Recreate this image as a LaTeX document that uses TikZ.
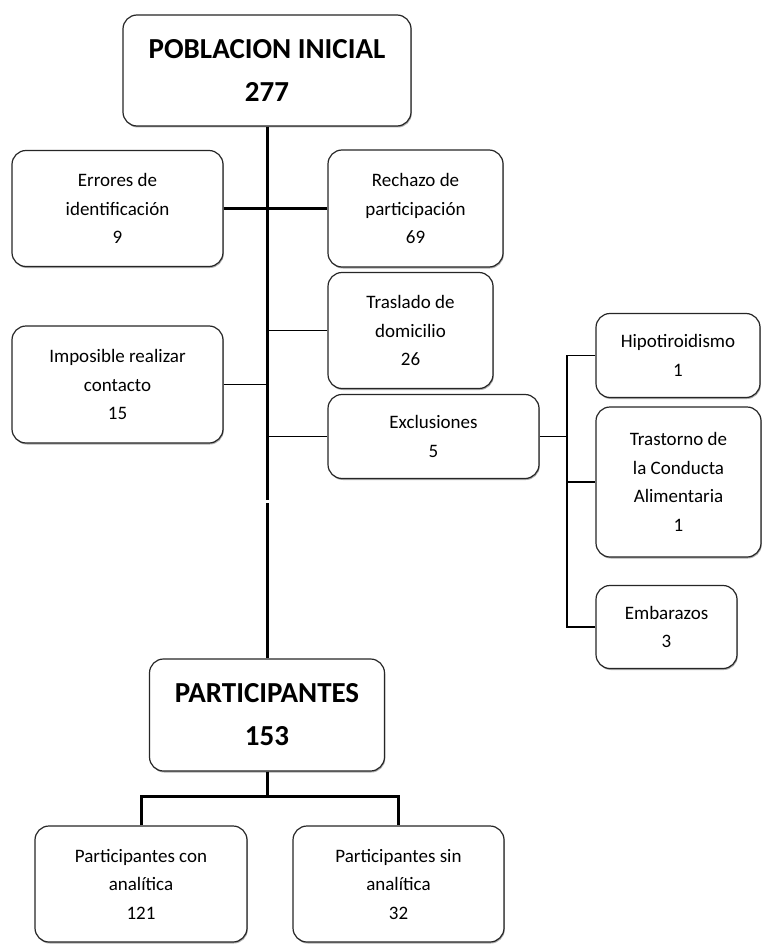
\documentclass[tikz,border=0pt]{standalone}
\usepackage{fontspec}
\setmainfont{Carlito}
\usetikzlibrary{shadows}
\begin{document}
\begin{tikzpicture}[x=1pt,y=-1pt,
  box/.style={draw=black!85, line width=1.2pt, rounded corners=14pt, fill=white,
    align=center, inner sep=0pt,
    drop shadow={shadow xshift=0.8pt, shadow yshift=-1.5pt, opacity=0.45, fill=black!70},
    font=\fontsize{19}{28.5}\selectfont},
  bigbox/.style={box, font=\bfseries\fontsize{29}{43}\selectfont},
  mainline/.style={line width=3pt},
  sideline/.style={line width=2.2pt},
  thinline/.style={line width=1.8pt}]
\useasboundingbox (0,0) rectangle (762,944);
% boxes
\node[bigbox, minimum width=288pt, minimum height=111pt] (pob) at (267,70.5) {POBLACION INICIAL\\277};
\node[box, minimum width=211pt, minimum height=116pt] (err) at (117.5,208.5) {Errores de\\identificación\\9};
\node[box, minimum width=175pt, minimum height=117pt] (rech) at (415.5,208.5) {Rechazo de\\participación\\69};
\node[box, minimum width=165pt, minimum height=116pt] (tras) at (410.5,330.5) {Traslado de\\domicilio\\26};
\node[box, minimum width=211pt, minimum height=117pt] (imp) at (117.5,384.5) {Imposible realizar\\contacto\\15};
\node[box, minimum width=211pt, minimum height=84pt] (excl) at (433.5,436.5) {Exclusiones\\5};
\node[box, minimum width=164pt, minimum height=84pt] (hipo) at (678,355.5) {Hipotiroidismo\\1};
\node[box, minimum width=165pt, minimum height=150pt] (tca) at (678.5,482) {Trastorno de\\la Conducta\\Alimentaria\\1};
\node[box, minimum width=141pt, minimum height=83pt] (emb) at (666.5,627) {Embarazos\\3};
\node[bigbox, minimum width=235pt, minimum height=112pt] (part) at (267,715) {PARTICIPANTES\\153};
\node[box, minimum width=212pt, minimum height=116pt] (pcon) at (141,884) {Participantes con\\analítica\\121};
\node[box, minimum width=211pt, minimum height=116pt] (psin) at (398.5,884) {Participantes sin\\analítica\\32};
% main trunk
\coordinate (m1) at (267,500);
\coordinate (m2) at (267,503);
\draw[mainline] (pob.south) -- (m1);
\draw[mainline] (m2) -- (part.north);
% side branches
\draw[sideline] (err.east) -- (rech.west);
\draw[thinline] (tras.west) -- (tras.west -| pob.south);
\draw[thinline] (imp.east) -- (imp.east -| pob.south);
\draw[thinline] (excl.west) -- (excl.west -| pob.south);
% exclusion branch
\coordinate (bx) at (567,436.5);
\draw[thinline] (excl.east) -- (bx);
\draw[thinline] (hipo.west) -- (bx |- hipo.west) -- (bx |- emb.west) -- (emb.west);
\draw[thinline] (bx |- tca.west) -- (tca.west);
% bottom tree
\coordinate (bj) at (267,796);
\draw[mainline] (part.south) -- (bj);
\draw[mainline] (pcon.north) -- (pcon.north |- bj) -- (psin.north |- bj) -- (psin.north);
\end{tikzpicture}
\end{document}
